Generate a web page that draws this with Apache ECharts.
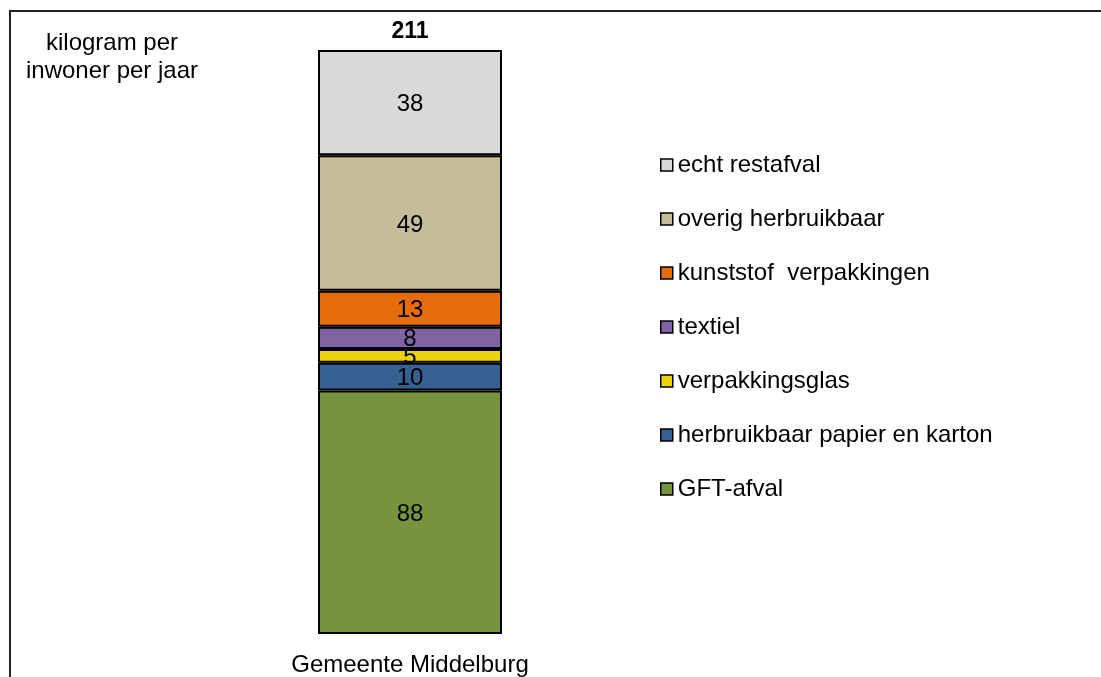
<!DOCTYPE html>
<html>
<head>
<meta charset="utf-8">
<script src="https://cdn.jsdelivr.net/npm/echarts@6/dist/echarts.min.js"></script>
<style>html,body{margin:0;padding:0;background:#fff}#c{width:1101px;height:677px}</style>
</head>
<body>
<div id="c"></div>
<script>
const categories = ['Gemeente Middelburg'];
const seriesNames = ['GFT-afval', 'herbruikbaar papier en karton', 'verpakkingsglas', 'textiel', 'kunststof  verpakkingen', 'overig herbruikbaar', 'echt restafval'];
const seriesValues = [[88], [10], [5], [8], [13], [49], [38]];
const seriesColors = ['#77933C', '#376092', '#EDD30E', '#8064A2', '#E46C0A', '#C4BD97', '#D9D9D9'];
const yTitle = 'kilogram per\ninwoner per jaar';

const FONT = 'Liberation Sans, Arial, sans-serif';
const totals = categories.map((c, i) => seriesValues.reduce((s, v) => s + v[i], 0));

const series = seriesNames.map((n, k) => ({
  name: n,
  type: 'bar',
  stack: 'a',
  barWidth: '100%',
  data: seriesValues[k],
  itemStyle: { color: seriesColors[k], borderColor: '#000', borderWidth: 2 },
  label: { show: true, position: 'inside', offset: [0, 2], fontSize: 24, color: '#000', fontFamily: FONT },
  emphasis: { disabled: true }
}));
series.push({
  name: 'total',
  type: 'bar',
  stack: 'a',
  barWidth: '100%',
  data: categories.map(() => 0),
  itemStyle: { color: 'transparent', borderWidth: 0 },
  label: { show: true, position: 'top', distance: 7, fontSize: 23, fontWeight: 'bold', color: '#000', fontFamily: FONT,
           formatter: p => String(totals[p.dataIndex]) },
  emphasis: { disabled: true }
});

const chart = echarts.init(document.getElementById('c'), null, { renderer: 'canvas' });
chart.setOption({
  animation: false,
  backgroundColor: '#fff',
  grid: { left: 318, width: 184, top: 50, bottom: 43 },
  xAxis: {
    type: 'category', data: categories,
    axisLine: { show: false }, axisTick: { show: false },
    axisLabel: { fontSize: 24, color: '#000', margin: 19, fontFamily: FONT }
  },
  yAxis: { type: 'value', min: 0, max: totals[0], show: false, splitLine: { show: false } },
  legend: {
    orient: 'vertical', left: 655, top: 148,
    data: seriesNames.slice().reverse(),
    icon: 'rect', itemWidth: 12, itemHeight: 12, itemGap: 30,
    itemStyle: { borderColor: '#000', borderWidth: 1.5 },
    textStyle: { fontSize: 24, color: '#000', fontFamily: FONT, lineHeight: 24 },
    selectedMode: false
  },
  graphic: [
    { type: 'line', shape: { x1: 9, y1: 11, x2: 1101, y2: 11 }, style: { stroke: '#222', lineWidth: 2 } },
    { type: 'line', shape: { x1: 10, y1: 10, x2: 10, y2: 677 }, style: { stroke: '#222', lineWidth: 2 } },
    { type: 'text', x: 112, y: 29,
      style: { text: yTitle, fontSize: 24, lineHeight: 28, fill: '#000', align: 'center', fontFamily: FONT } }
  ],
  series: series
});
</script>
</body>
</html>
